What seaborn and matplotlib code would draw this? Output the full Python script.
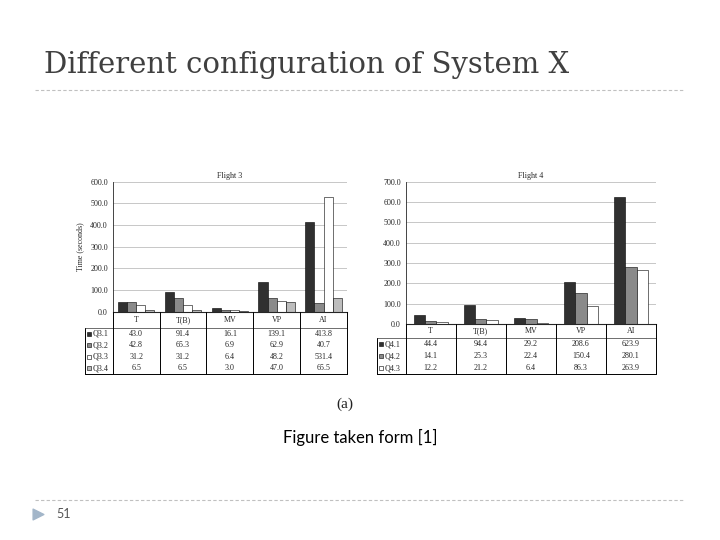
import numpy as np
import pandas as pd
import matplotlib
matplotlib.use('Agg')
import matplotlib.pyplot as plt
import seaborn as sns

# values (two bar charts with data tables)
categories = ['T', 'T(B)', 'MV', 'VP', 'AI']

flight3_series = ['Q3.1', 'Q3.2', 'Q3.3', 'Q3.4']
q3_1 = [43.0, 91.4, 16.1, 139.1, 413.8]
q3_2 = [42.8, 65.3, 6.9, 62.9, 40.7]
q3_3 = [31.2, 31.2, 6.4, 48.2, 531.4]
q3_4 = [6.5, 6.5, 3.0, 47.0, 65.5]

flight4_series = ['Q4.1', 'Q4.2', 'Q4.3']
q4_1 = [44.4, 94.4, 29.2, 208.6, 623.9]
q4_2 = [14.1, 25.3, 22.4, 150.4, 280.1]
q4_3 = [12.2, 21.2, 6.4, 86.3, 263.9]

flight3_ticks = [0, 100, 200, 300, 400, 500, 600]
flight4_ticks = [0, 100, 200, 300, 400, 500, 600, 700]

bar_colors = ['#303030', '#8a8a8a', '#ffffff', '#bdbdbd']

W, H = 720, 540
SERIF = 'Liberation Serif'


def px_rect(x0, y0, x1, y1):
    # pixel box (top-left origin) -> figure fraction rect
    return [x0 / W, 1 - y1 / H, (x1 - x0) / W, (y1 - y0) / H]


def long_frame(series, values):
    rows = []
    for name, vals in zip(series, values):
        for cat, v in zip(categories, vals):
            rows.append({'Category': cat, 'Series': name, 'Time': v})
    return pd.DataFrame(rows)


def draw_flight(fig, title, series, values, ticks, bar_box, table_left,
                table_bottom, header_h, width, ylabel=None):
    x0, y0, x1, y1 = bar_box
    ax = fig.add_axes(px_rect(x0, y0, x1, y1))
    df = long_frame(series, values)
    sns.barplot(data=df, x='Category', y='Time', hue='Series',
                order=categories, hue_order=series,
                palette=bar_colors[:len(series)], width=width,
                edgecolor='black', linewidth=0.4, legend=False, ax=ax)
    ax.set_xlim(-0.5, len(categories) - 0.5)
    ax.set_ylim(ticks[0], ticks[-1])
    ax.set_yticks(ticks)
    ax.set_yticklabels([f'{t:.1f}' for t in ticks], family=SERIF, fontsize=5.8)
    ax.set_xticks([])
    ax.set_xlabel('')
    ax.set_ylabel(ylabel or '', family=SERIF, fontsize=5.8, labelpad=4)
    ax.tick_params(axis='y', length=2, width=0.5, pad=1.5)
    ax.grid(axis='y', color='#b0b0b0', linewidth=0.5)
    ax.set_axisbelow(True)
    for side in ['top', 'right']:
        ax.spines[side].set_visible(False)
    ax.spines['left'].set_linewidth(0.6)
    ax.spines['bottom'].set_linewidth(0.8)
    ax.set_title(title, family=SERIF, fontsize=5.8, pad=3)

    # data table under the bars
    n = len(series)
    cat_w = (x1 - x0) / len(categories)
    lab_w = (x0 - table_left) / cat_w
    tax = fig.add_axes(px_rect(table_left, y1, x1, table_bottom))
    total = header_h + n
    tax.set_xlim(-0.5 - lab_w, len(categories) - 0.5)
    tax.set_ylim(total, 0)
    tax.axis('off')
    lw = 0.7
    for k in range(len(categories) + 1):
        tax.plot([k - 0.5, k - 0.5], [0, total], color='black', lw=lw, clip_on=False)
    tax.plot([-0.5 - lab_w, -0.5 - lab_w], [header_h, total], color='black', lw=lw, clip_on=False)
    tax.plot([-0.5 - lab_w, len(categories) - 0.5], [header_h, header_h], color='black', lw=0.4, clip_on=False)
    tax.plot([-0.5 - lab_w, len(categories) - 0.5], [total, total], color='black', lw=lw, clip_on=False)
    for k, cat in enumerate(categories):
        tax.text(k, header_h / 2, cat, ha='center', va='center', family=SERIF, fontsize=5.8)
    for i, (name, vals) in enumerate(zip(series, values)):
        yc = header_h + i + 0.5
        tax.scatter([-0.5 - lab_w + 0.08], [yc], marker='s', s=9,
                    color=bar_colors[i], edgecolor='black', linewidth=0.4, clip_on=False)
        tax.text(-0.5 - lab_w + 0.16, yc, name, ha='left', va='center', family=SERIF, fontsize=5.8)
        for k, v in enumerate(vals):
            tax.text(k, yc, f'{v:.1f}', ha='center', va='center', family=SERIF, fontsize=5.8)
    return ax


sns.set_theme(style='white')
fig = plt.figure(figsize=(7.2, 5.4), dpi=100)
fig.patch.set_facecolor('white')

draw_flight(fig, 'Flight 3', flight3_series, [q3_1, q3_2, q3_3, q3_4], flight3_ticks,
            (112.7, 181.7, 347, 311.7), 85, 374, 1.45, 0.78, ylabel='Time (seconds)')
draw_flight(fig, 'Flight 4', flight4_series, [q4_1, q4_2, q4_3], flight4_ticks,
            (405.7, 181.7, 656, 324), 377, 374, 1.2, 0.68)

# slide decoration overlay
ov = fig.add_axes([0, 0, 1, 1], zorder=-1)
ov.set_xlim(0, W)
ov.set_ylim(H, 0)
ov.axis('off')
ov.text(44, 73, 'Different configuration of System X', family='DejaVu Serif', fontsize=21,
        color='#404040', ha='left', va='baseline')
ov.plot([35, 685], [90, 90], color='#c0c0c0', lw=0.8, ls=(0, (3, 2)))
ov.plot([35, 685], [500, 500], color='#c0c0c0', lw=0.8, ls=(0, (3, 2)))
ov.scatter([38], [514], marker='>', s=60, color='#a3b6c9')
ov.text(56, 514, '51', fontsize=9, color='#555555', ha='left', va='center', family='Lato')
ov.text(345, 404, '(a)', family=SERIF, fontsize=11, color='#222222', ha='center', va='center')
ov.text(360, 437, 'Figure taken form [1]', family='Lato', fontsize=12, color='black',
        ha='center', va='center')

fig.savefig('out.png', dpi=100)
